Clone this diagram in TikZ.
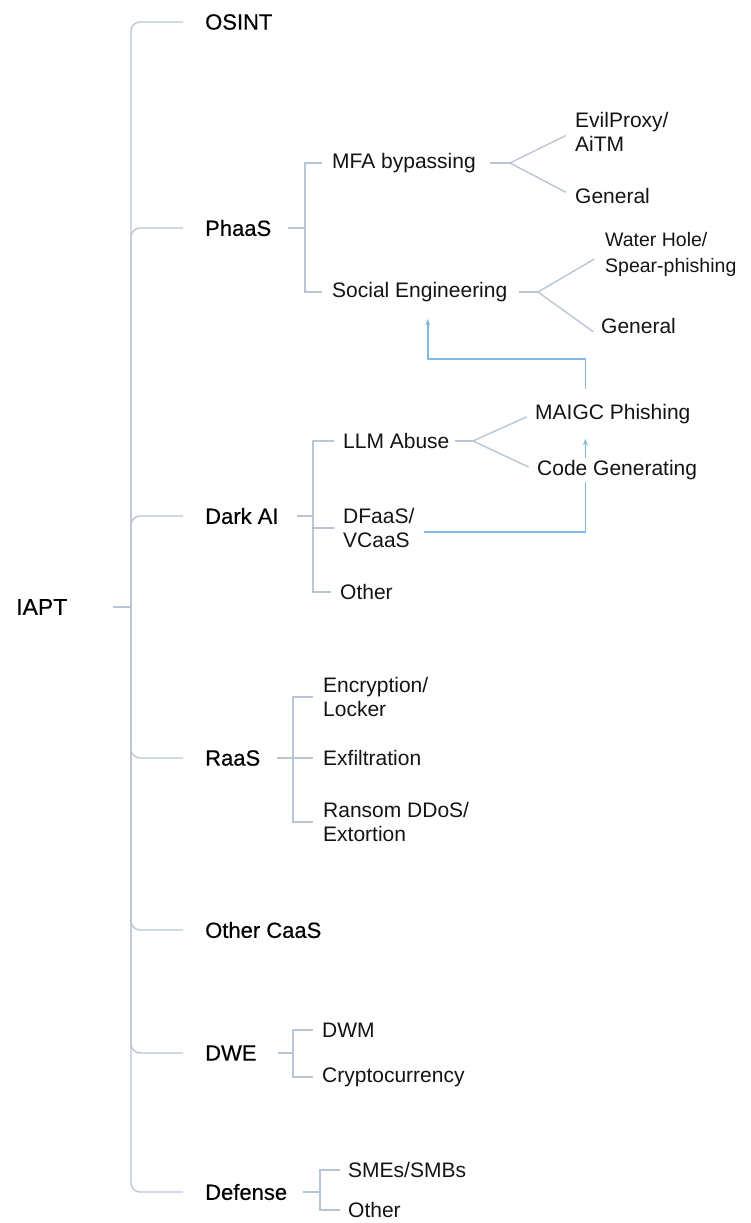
\documentclass[tikz,border=0pt]{standalone}
\usepackage{fontspec}
\setmainfont{Liberation Sans}
\newfontfamily\headfont[FakeBold=0.4]{Liberation Sans}
\usetikzlibrary{arrows.meta,backgrounds,positioning}

\tikzset{
	leaf/.style={anchor=west, inner sep=2pt, align=left, fill=white, text=black!92, font=\fontsize{21}{24}\selectfont},
	head/.style={anchor=west, inner sep=2pt, text=black, font=\headfont\fontsize{22}{26}\selectfont},
	treeline/.style={draw=treeColour, line width=1.4pt},
	linkline/.style={draw=linkColour, line width=1.5pt, -{Stealth[length=6.5pt,width=5pt]}}
}

\begin{document}
\begin{tikzpicture}[x=1pt, y=-1pt]
	\definecolor{treeColour}{RGB}{184, 197, 215}
	\definecolor{linkColour}{RGB}{128, 186, 228}

	\useasboundingbox (0, 0) rectangle (751, 1223);

	\node[head, font=\headfont\fontsize{23}{27}\selectfont] (iapt) at (14, 607) {IAPT};
	\coordinate (spine) at (131, 607);

	\node[head] (osint) at (203, 22) {OSINT};
	\node[head] (phaas) at (203, 228) {PhaaS};
	\node[head] (darkai) at (203, 516) {Dark AI};
	\node[head] (raas) at (203, 758) {RaaS};
	\node[head] (othercaas) at (203, 930) {Other CaaS};
	\node[head] (dwe) at (203, 1053) {DWE};
	\node[head] (defense) at (203, 1192) {Defense};

	\node[leaf] (mfa) at (330, 163) {MFA bypassing};
	\node[leaf] (soceng) at (330, 292) {Social Engineering};
	\node[leaf] (evilproxy) at (573, 132) {EvilProxy/\\AiTM};
	\node[leaf] (mfageneral) at (573, 196) {General};
	\node[leaf, font=\fontsize{19.5}{26}\selectfont] (waterhole) at (603, 254) {Water Hole/\\Spear-phishing};
	\node[leaf] (segeneral) at (599, 326) {General};

	\node[leaf] (llm) at (341, 441) {LLM Abuse};
	\node[leaf] (dfaas) at (341, 528) {DFaaS/\\VCaaS};
	\node[leaf] (darkother) at (338, 592) {Other};
	\node[leaf] (maigc) at (533, 414) {MAIGC Phishing};
	\node[leaf] (codegen) at (535, 470) {Code Generating};

	\node[leaf] (encrypt) at (321, 697) {Encryption/\\Locker};
	\node[leaf] (exfil) at (321, 758) {Exfiltration};
	\node[leaf] (ransom) at (321, 822) {Ransom DDoS/\\Extortion};

	\node[leaf] (dwm) at (320, 1030) {DWM};
	\node[leaf] (crypto) at (320, 1077) {Cryptocurrency};

	\node[leaf] (smes) at (346, 1170) {SMEs/SMBs};
	\node[leaf] (defother) at (346, 1210) {Other};

	\coordinate (phaasfork) at (305, 228);
	\coordinate (mfafork) at (510, 163);
	\coordinate (sefork) at (538, 292);
	\coordinate (darkfork) at (313, 516);
	\coordinate (llmfork) at (473, 441);
	\coordinate (raasfork) at (293, 758);
	\coordinate (dwefork) at (293, 1053);
	\coordinate (defensefork) at (320, 1192);

	\begin{scope}[on background layer]
		\draw[treeline, shorten <=43pt] (iapt.east) -- (spine);
		\foreach \branch in {osint, phaas, darkai, raas, othercaas, dwe, defense}
			\draw[treeline, rounded corners=9pt, shorten >=20pt] (spine) |- (\branch);

		\draw[treeline, shorten <=15pt] (phaas) -- (phaasfork);
		\draw[treeline, shorten >=8pt] (phaasfork) |- (mfa);
		\draw[treeline, shorten >=8pt] (phaasfork) |- (soceng);
		\draw[treeline, shorten <=12pt] (mfa) -- (mfafork);
		\draw[treeline, shorten >=8pt] (mfafork) -- (evilproxy.west);
		\draw[treeline, shorten >=8pt] (mfafork) -- (mfageneral.west);
		\draw[treeline, shorten <=9pt] (soceng) -- (sefork);
		\draw[treeline, shorten >=10pt] (sefork) -- (waterhole.west);
		\draw[treeline, shorten >=7pt] (sefork) -- (segeneral.south west);

		\draw[treeline, shorten <=16pt] (darkai) -- (darkfork);
		\foreach \leafnode in {llm, dfaas, darkother}
			\draw[treeline, shorten >=7pt] (darkfork) |- (\leafnode);
		\draw[treeline, shorten <=3pt] (llm) -- (llmfork);
		\draw[treeline, shorten >=7pt] (llmfork) -- (maigc.west);
		\draw[treeline, shorten >=7pt] (llmfork) -- (codegen.west);

		\draw[treeline, shorten <=15pt] (raas) -- (raasfork);
		\foreach \leafnode in {encrypt, exfil, ransom}
			\draw[treeline, shorten >=8pt] (raasfork) |- (\leafnode);

		\draw[treeline, shorten <=19pt] (dwe) -- (dwefork);
		\foreach \leafnode in {dwm, crypto}
			\draw[treeline, shorten >=7pt] (dwefork) |- (\leafnode);

		\draw[treeline, shorten <=14pt] (defense) -- (defensefork);
		\foreach \leafnode in {smes, defother}
			\draw[treeline, shorten >=6pt] (defensefork) |- (\leafnode);

		\draw[linkline, shorten <=7pt, shorten >=13pt] ([yshift=-4pt]dfaas.east) -| ([xshift=-27.5pt]maigc.south);
		\draw[linkline, shorten <=13pt, shorten >=15pt] ([xshift=-27.5pt]maigc.north) -- ++(0, -43) -| ([xshift=8pt]soceng.south);
	\end{scope}
\end{tikzpicture}
\end{document}
